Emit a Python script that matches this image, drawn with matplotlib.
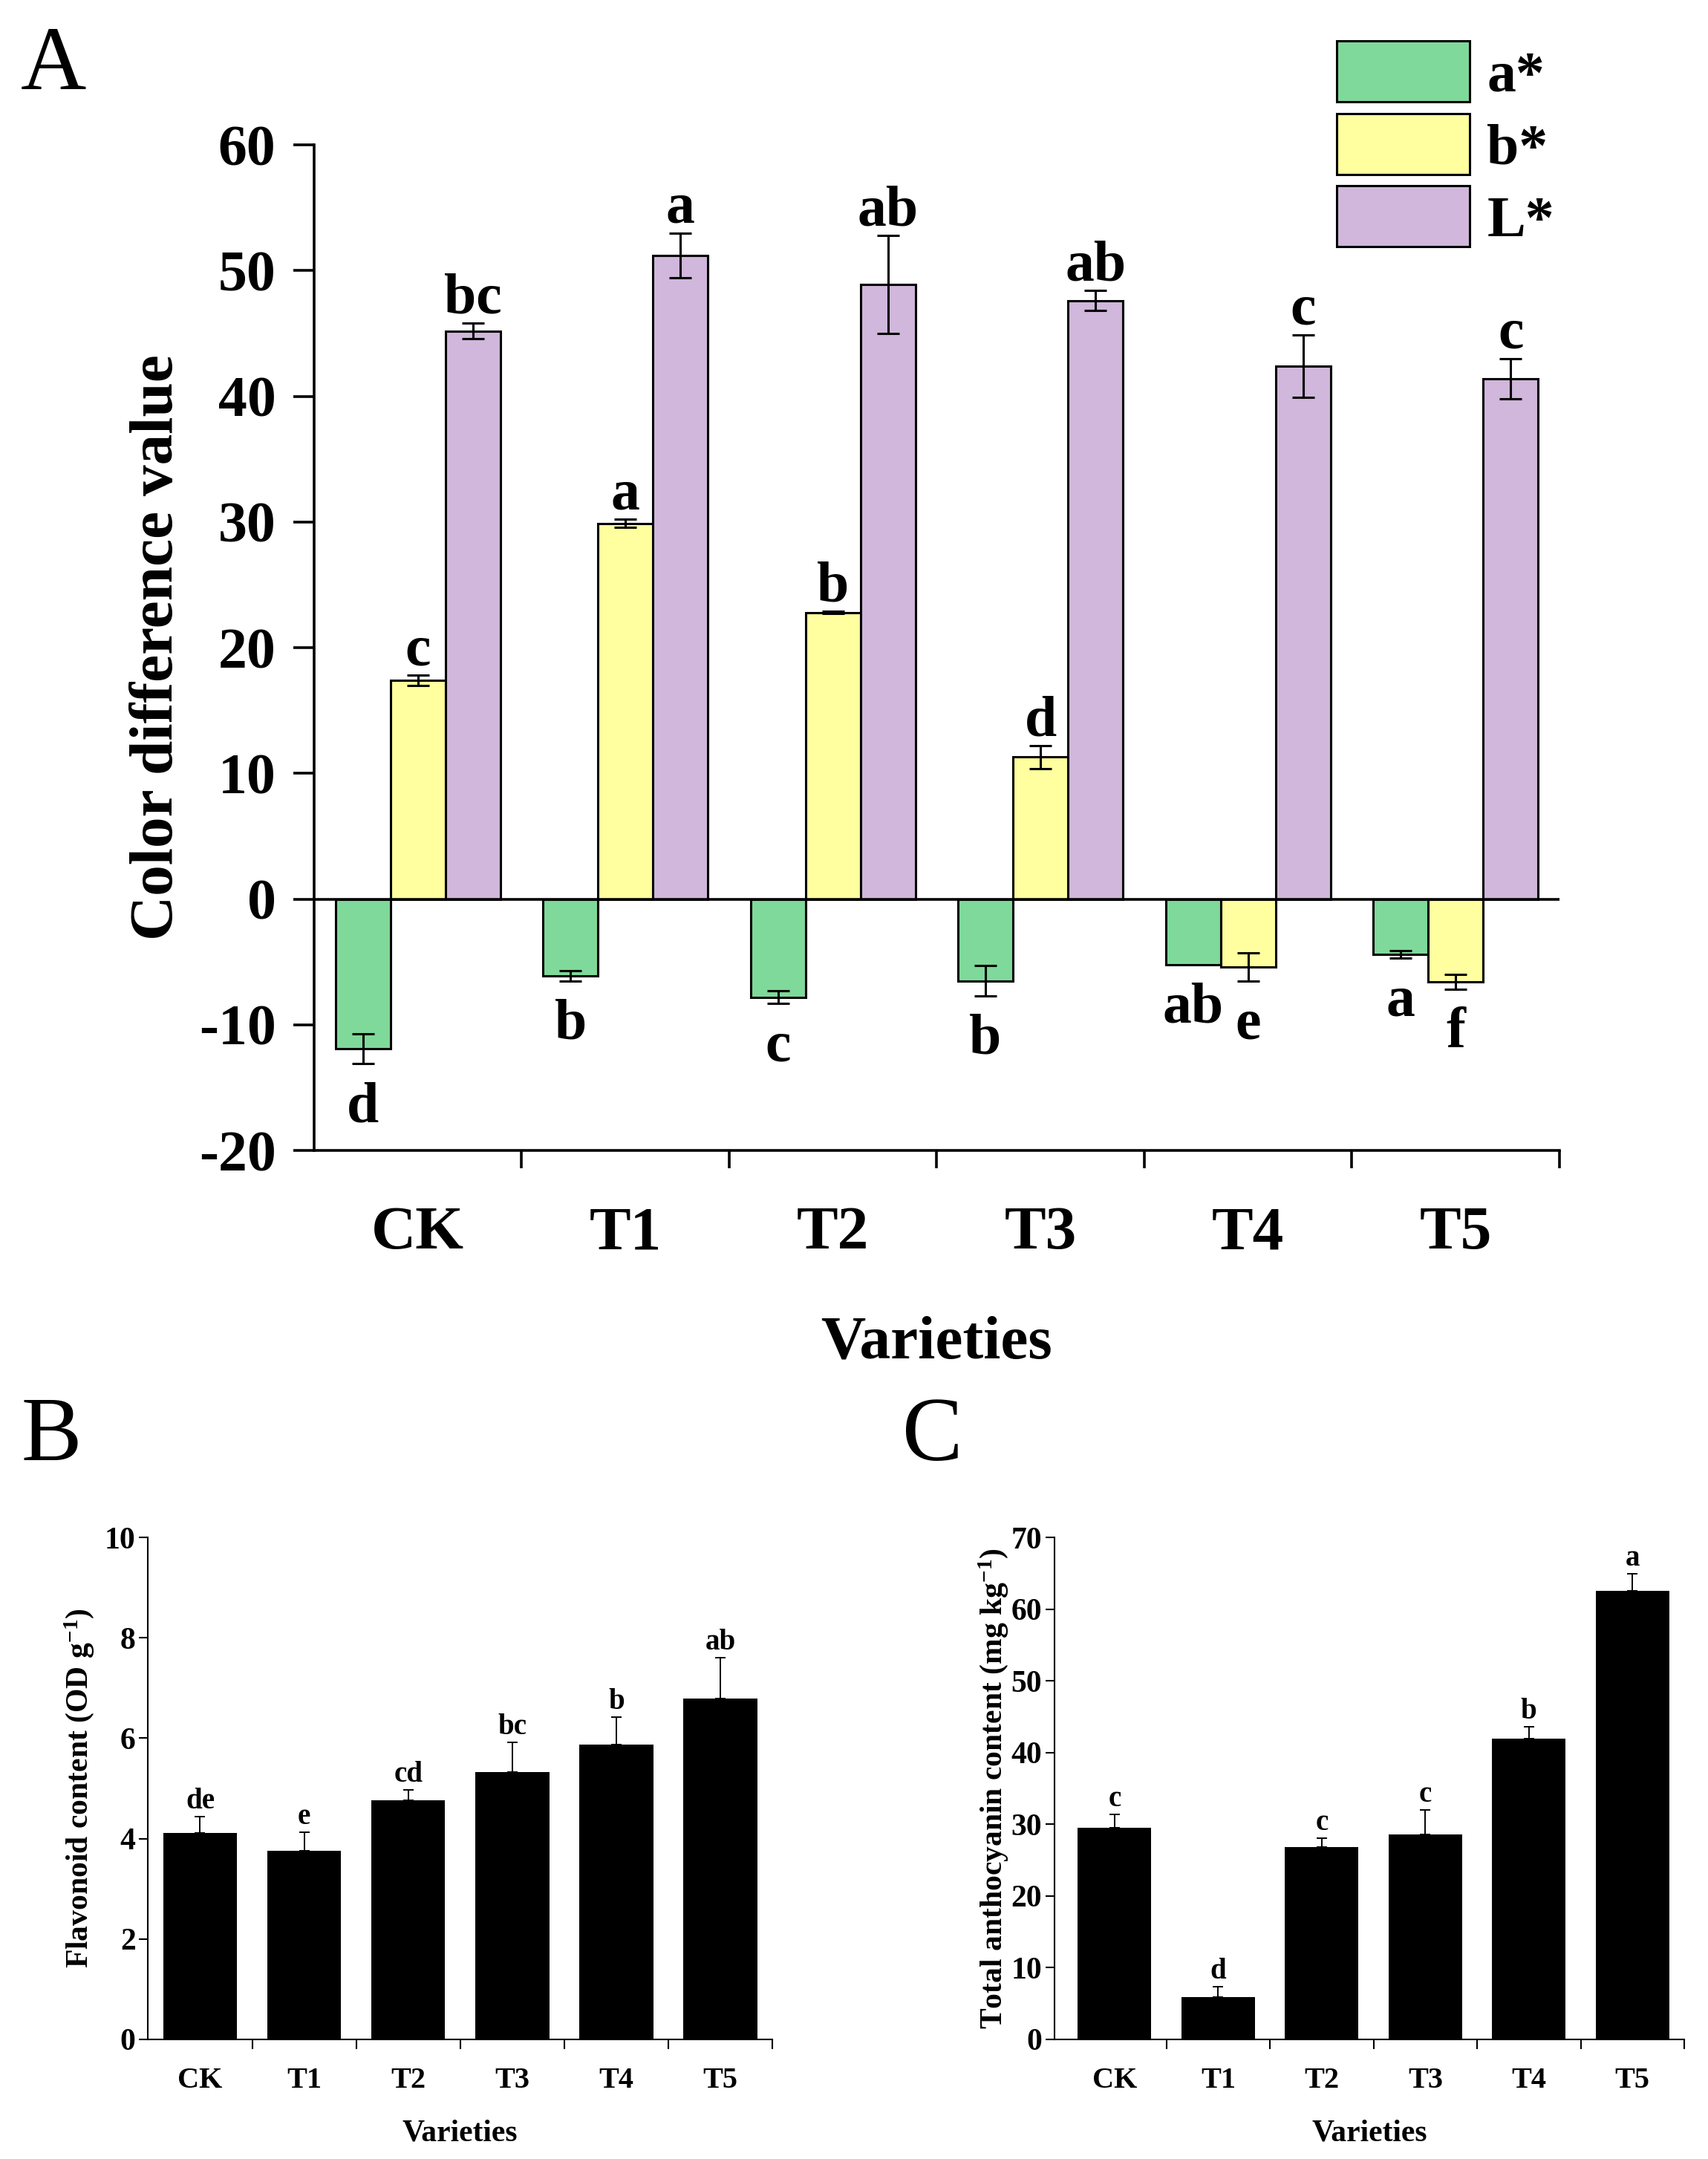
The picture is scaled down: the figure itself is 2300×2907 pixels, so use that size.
import numpy as np
import matplotlib as mpl
mpl.use('Agg')
import matplotlib.pyplot as plt
from matplotlib.patches import Patch

plt.rcParams['font.family'] = ['Liberation Serif', 'DejaVu Serif']
plt.rcParams['font.weight'] = 'bold'
plt.rcParams['axes.unicode_minus'] = False
plt.rcParams['mathtext.fontset'] = 'custom'
plt.rcParams['mathtext.rm'] = 'Liberation Serif:bold'
plt.rcParams['mathtext.bf'] = 'Liberation Serif:bold'
plt.rcParams['mathtext.it'] = 'Liberation Serif:bold'

# data
varieties = ['CK', 'T1', 'T2', 'T3', 'T4', 'T5']

a_star = [-11.9, -6.1, -7.8, -6.5, -5.2, -4.4]
a_star_err = [1.2, 0.4, 0.5, 1.2, 0.0, 0.3]
a_star_sig = ['d', 'b', 'c', 'b', 'ab', 'a']

b_star = [17.4, 29.9, 22.8, 11.3, -5.4, -6.6]
b_star_err = [0.4, 0.3, 0.1, 0.9, 1.1, 0.6]
b_star_sig = ['c', 'a', 'b', 'd', 'e', 'f']

L_star = [45.2, 51.2, 48.9, 47.6, 42.4, 41.4]
L_star_err = [0.6, 1.8, 3.9, 0.8, 2.5, 1.6]
L_star_sig = ['bc', 'a', 'ab', 'ab', 'c', 'c']

flavonoid = [4.11, 3.75, 4.76, 5.33, 5.87, 6.79]
flavonoid_err = [0.33, 0.37, 0.21, 0.59, 0.55, 0.81]
flavonoid_sig = ['de', 'e', 'cd', 'bc', 'b', 'ab']

anthocyanin = [29.5, 5.9, 26.8, 28.6, 41.9, 62.6]
anthocyanin_err = [1.9, 1.45, 1.3, 3.4, 1.7, 2.3]
anthocyanin_sig = ['c', 'd', 'c', 'c', 'b', 'a']

colors = ['#7FD99A', '#FFFF9F', '#D0B7DB']
series_names = ['a*', 'b*', 'L*']

fig = plt.figure(figsize=(23, 29.07), dpi=100)

# ---------------- panel A ----------------
ax = fig.add_axes([0.1839, 0.4671, 0.7291, 0.4658])
x = np.arange(len(varieties))
w = 0.265
allvals = [a_star, b_star, L_star]
allerr = [a_star_err, b_star_err, L_star_err]
allsig = [a_star_sig, b_star_sig, L_star_sig]
for k in range(3):
    pos = x + (k - 1) * w
    ax.bar(pos, allvals[k], w, color=colors[k], edgecolor='black', linewidth=2.2, zorder=2)
    for i in range(len(varieties)):
        v = allvals[k][i]
        e = allerr[k][i]
        if e > 0:
            ax.errorbar(pos[i], v, yerr=e, fmt='none', ecolor='black', elinewidth=2.2,
                        capsize=11, capthick=2.2, zorder=3)
        if v >= 0:
            ax.annotate(allsig[k][i], (pos[i], v + e), xytext=(0, 10), textcoords='offset points',
                        ha='center', va='baseline', fontsize=56, fontweight='bold')
        else:
            ax.annotate(allsig[k][i], (pos[i], v - e), xytext=(0, -56), textcoords='offset points',
                        ha='center', va='baseline', fontsize=56, fontweight='bold')

ax.axhline(0, color='black', linewidth=2.6, zorder=4)
ax.set_xlim(-0.5, 5.5)
ax.set_ylim(-20, 60)
ax.set_yticks(np.arange(-20, 61, 10))
ax.set_xticks(x)
ax.set_xticklabels(varieties)
ax.set_xticks(np.arange(0.5, 5.6, 1), minor=True)
ax.tick_params(axis='x', which='major', length=0, pad=54, labelsize=60)
ax.tick_params(axis='x', which='minor', length=17, width=2.6, direction='out')
ax.tick_params(axis='y', which='major', length=20, width=2.6, pad=17, labelsize=56)
for s in ['top', 'right']:
    ax.spines[s].set_visible(False)
for s in ['left', 'bottom']:
    ax.spines[s].set_linewidth(2.6)
ax.set_xlabel('Varieties', fontsize=60, fontweight='bold')
ax.set_ylabel('Color difference value', fontsize=60, fontweight='bold')
ax.xaxis.set_label_coords(0.5, -0.164)
ax.yaxis.set_label_coords(-0.103, 0.5)

handles = [Patch(facecolor=colors[k], edgecolor='black', linewidth=2.2) for k in range(3)]
fig.legend(handles, series_names, loc='upper left', bbox_to_anchor=(0.7826, 0.981),
           frameon=False, fontsize=56, handlelength=2.3, handleheight=1.25,
           labelspacing=0.17, handletextpad=0.3, borderpad=0, borderaxespad=0)

# ---------------- panels B and C ----------------
def small_panel(rect, vals, errs, sigs, ylim, yticks, ylabel, xlim, lab_x):
    ax2 = fig.add_axes(rect)
    xx = np.arange(len(varieties))
    ax2.bar(xx, vals, 0.71, color='black', zorder=2)
    ax2.errorbar(xx, vals, yerr=[np.zeros(len(vals)), errs], fmt='none', ecolor='black',
                 elinewidth=1.4, capsize=5, capthick=1.4, zorder=3)
    for i in range(len(vals)):
        ax2.annotate(sigs[i], (xx[i], vals[i] + errs[i]), xytext=(0, 8), textcoords='offset points',
                     ha='center', va='baseline', fontsize=28, fontweight='bold')
    ax2.set_xlim(*xlim)
    ax2.set_ylim(*ylim)
    ax2.set_yticks(yticks)
    ax2.set_xticks(xx)
    ax2.set_xticklabels(varieties)
    ax2.set_xticks(np.arange(0.5, 5.6, 1), minor=True)
    ax2.tick_params(axis='x', which='major', length=0, pad=27, labelsize=29)
    ax2.tick_params(axis='x', which='minor', length=9, width=1.5, direction='out')
    ax2.tick_params(axis='y', which='major', length=9, width=1.5, pad=3, labelsize=30)
    for s in ['top', 'right']:
        ax2.spines[s].set_visible(False)
    for s in ['left', 'bottom']:
        ax2.spines[s].set_linewidth(1.5)
    ax2.set_xlabel('Varieties', fontsize=30, fontweight='bold')
    ax2.set_ylabel(ylabel, fontsize=30, fontweight='bold')
    ax2.xaxis.set_label_coords(0.5, -0.159)
    ax2.yaxis.set_label_coords(lab_x, 0.5)
    return ax2

small_panel([0.0867, 0.0554, 0.3655, 0.2325], flavonoid, flavonoid_err, flavonoid_sig,
            (0, 10), np.arange(0, 11, 2), r'Flavonoid content (OD g$^{-1}$)', (-0.5, 5.5), -0.084)
small_panel([0.6174, 0.0554, 0.3687, 0.2325], anthocyanin, anthocyanin_err, anthocyanin_sig,
            (0, 70), np.arange(0, 71, 10), r'Total anthocyanin content (mg kg$^{-1}$)', (-0.58, 5.5), -0.071)

# panel letters
fig.text(28 / 2300, 1 - 120 / 2907, 'A', fontsize=88, fontweight='normal', va='baseline')
fig.text(28 / 2300, 1 - 1966 / 2907, 'B', fontsize=88, fontweight='normal', va='baseline')
fig.text(1215 / 2300, 1 - 1966 / 2907, 'C', fontsize=88, fontweight='normal', va='baseline')

plt.savefig('out.png', dpi=100)
